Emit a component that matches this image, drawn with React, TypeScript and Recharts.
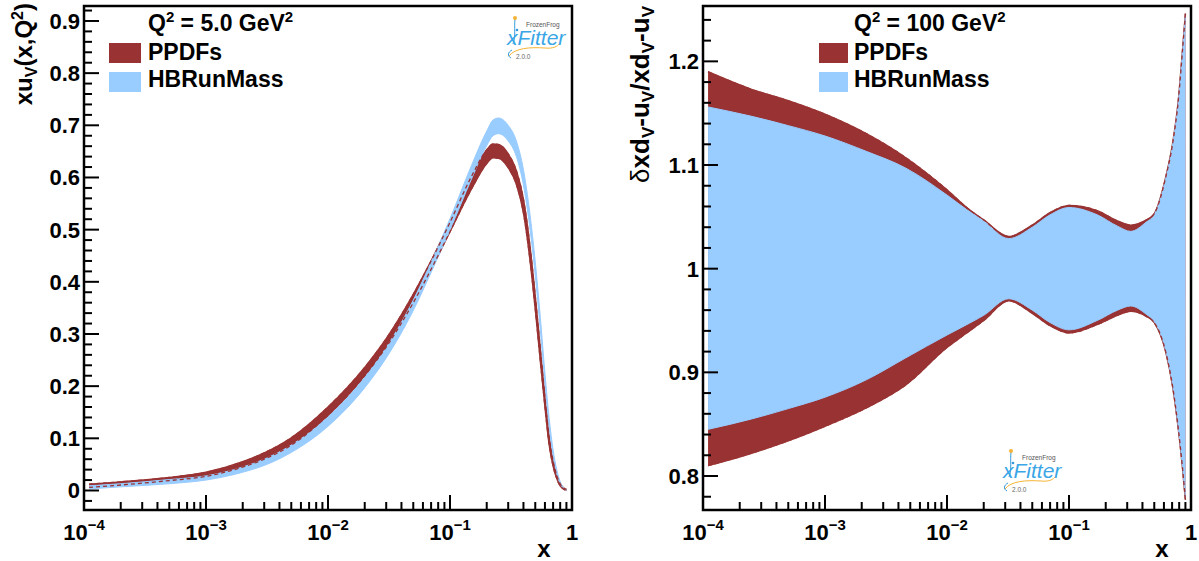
import React from 'react';
import { ComposedChart, Area, Line, XAxis, YAxis, ReferenceArea } from 'recharts';

const FONT = "'Liberation Sans', Arial, Helvetica, sans-serif";
const RED = '#993333';
const BLUE = '#99ccff';

// ---------- Left panel: xu_V(x, Q^2) at Q^2 = 5 GeV^2 ----------
const xLeft = [1.1e-4, 2e-4, 5e-4, 1e-3, 2e-3, 3e-3, 5e-3, 1e-2, 2e-2, 3e-2, 5e-2, 7e-2, 0.1, 0.15, 0.2, 0.225, 0.25, 0.3, 0.35, 0.4, 0.45, 0.5, 0.55, 0.6, 0.65, 0.7, 0.75, 0.8, 0.85, 0.9];
const ppdfLowLeft = [0.006, 0.0105, 0.019, 0.027, 0.045, 0.060, 0.087, 0.144, 0.220, 0.275, 0.360, 0.424, 0.496, 0.578, 0.627, 0.638, 0.637, 0.619, 0.587, 0.532, 0.447, 0.348, 0.249, 0.161, 0.088, 0.047, 0.023, 0.009, 0.003, 0.000];
const ppdfHighLeft = [0.012, 0.0165, 0.025, 0.035, 0.055, 0.072, 0.101, 0.160, 0.236, 0.291, 0.376, 0.440, 0.514, 0.602, 0.653, 0.664, 0.663, 0.645, 0.613, 0.558, 0.473, 0.372, 0.271, 0.179, 0.102, 0.057, 0.029, 0.013, 0.005, 0.002];
const hbLowLeft = [0.003, 0.007, 0.013, 0.020, 0.035, 0.048, 0.073, 0.123, 0.197, 0.254, 0.345, 0.418, 0.499, 0.597, 0.661, 0.680, 0.684, 0.670, 0.640, 0.585, 0.506, 0.412, 0.308, 0.205, 0.122, 0.066, 0.032, 0.013, 0.004, 0.000];
const hbHighLeft = [0.009, 0.013, 0.021, 0.028, 0.045, 0.060, 0.087, 0.141, 0.217, 0.274, 0.365, 0.438, 0.521, 0.623, 0.689, 0.710, 0.714, 0.700, 0.670, 0.615, 0.534, 0.438, 0.332, 0.225, 0.138, 0.078, 0.040, 0.017, 0.006, 0.002];

// ---------- Right panel: ratio at Q^2 = 100 GeV^2 ----------
const xRight = [1.1e-4, 2.5e-4, 5e-4, 1e-3, 2.2e-3, 4.6e-3, 1e-2, 1.45e-2, 2e-2, 3.2e-2, 5e-2, 0.07, 0.1, 0.17, 0.25, 0.32, 0.43, 0.5, 0.62, 0.71, 0.79, 0.85, 0.9];
const ppdfHighRight = [1.190, 1.173, 1.162, 1.149, 1.130, 1.107, 1.076, 1.059, 1.047, 1.031, 1.042, 1.054, 1.061, 1.056, 1.046, 1.042, 1.047, 1.053, 1.088, 1.122, 1.164, 1.209, 1.246];
const ppdfLowRight = [0.810, 0.822, 0.834, 0.848, 0.866, 0.888, 0.924, 0.938, 0.950, 0.969, 0.957, 0.945, 0.938, 0.946, 0.955, 0.959, 0.954, 0.948, 0.920, 0.885, 0.844, 0.809, 0.777];
const hbHighRight = [1.156, 1.147, 1.138, 1.128, 1.113, 1.097, 1.071, 1.057, 1.046, 1.029, 1.040, 1.052, 1.059, 1.052, 1.041, 1.036, 1.045, 1.052, 1.087, 1.121, 1.163, 1.208, 1.245];
const hbLowRight = [0.845, 0.855, 0.865, 0.876, 0.893, 0.914, 0.936, 0.946, 0.955, 0.971, 0.960, 0.948, 0.941, 0.950, 0.960, 0.964, 0.956, 0.949, 0.921, 0.886, 0.845, 0.810, 0.779];

// ---------- Axes ----------
const xMajorTicks = [1e-4, 1e-3, 1e-2, 1e-1, 1];
const xMinorMultipliers = [2, 3, 4, 5, 6, 7, 8, 9];
const yMajorLeft = [0, 0.1, 0.2, 0.3, 0.4, 0.5, 0.6, 0.7, 0.8, 0.9];
const yMajorRight = [0.8, 0.9, 1, 1.1, 1.2];
const yDomainLeft: [number, number] = [-0.0374, 0.9287];
const yDomainRight: [number, number] = [0.7672, 1.2534];

const xTicks: number[] = [];
xMajorTicks.forEach((m, i) => {
  xTicks.push(m);
  if (i < xMajorTicks.length - 1) xMinorMultipliers.forEach((k) => xTicks.push(+(k * m).toPrecision(3)));
});

function yTicksFor(domain: [number, number]) {
  const out: number[] = [];
  const start = Math.ceil(domain[0] * 50 - 1e-9);
  const end = Math.floor(domain[1] * 50 + 1e-9);
  for (let i = start; i <= end; i++) out.push(Math.round(i * 2) / 100);
  return out;
}

const rowsLeft = xLeft.map((x, i) => ({
  x,
  ppdf: [ppdfLowLeft[i], ppdfHighLeft[i]],
  hb: [hbLowLeft[i], hbHighLeft[i]],
  ppdfLo: ppdfLowLeft[i],
  ppdfHi: ppdfHighLeft[i],
}));
const rowsRight = xRight.map((x, i) => ({
  x,
  ppdf: [ppdfLowRight[i], ppdfHighRight[i]],
  hb: [hbLowRight[i], hbHighRight[i]],
  ppdfLo: ppdfLowRight[i],
  ppdfHi: ppdfHighRight[i],
}));

const XTick = (props: any) => {
  const { x, y, payload } = props;
  const v = payload.value;
  const lg = Math.log10(v);
  const major = Math.abs(lg - Math.round(lg)) < 1e-6;
  const len = major ? 15 : 8;
  const e = Math.round(lg);
  return (
    <g>
      <line x1={x} x2={x} y1={y} y2={y - len} stroke="#000" strokeWidth={2} />
      {major && (
        <text x={x} y={y + 30} textAnchor="middle" fontFamily={FONT} fontWeight="bold" fontSize={22} fill="#000">
          {e === 0 ? (
            '1'
          ) : (
            <>
              <tspan>10</tspan>
              <tspan dy={-10} fontSize={15}>{'\u2212' + Math.abs(e)}</tspan>
            </>
          )}
        </text>
      )}
    </g>
  );
};

const YTick = (props: any) => {
  const { x, y, payload } = props;
  const v = payload.value;
  const major = Math.abs(v * 10 - Math.round(v * 10)) < 1e-6;
  const len = major ? 15 : 8;
  return (
    <g>
      <line x1={x} x2={x + len} y1={y} y2={y} stroke="#000" strokeWidth={2} />
      {major && (
        <text x={x - 4} y={y} dy="0.36em" textAnchor="end" fontFamily={FONT} fontWeight="bold" fontSize={22} fill="#000">
          {String(Math.round(v * 10) / 10)}
        </text>
      )}
    </g>
  );
};

function Panel({ rows, domain, width, yAxisWidth, rightMargin }: any) {
  const ticks = yTicksFor(domain);
  return (
    <ComposedChart width={width} height={561} data={rows} margin={{ top: 6, right: rightMargin, bottom: 0, left: 0 }}>
      <XAxis
        dataKey="x"
        type="number"
        scale="log"
        domain={[1e-4, 1]}
        allowDataOverflow
        ticks={xTicks}
        interval={0}
        height={51}
        tickSize={0}
        tickMargin={0}
        tickLine={false}
        axisLine={false}
        tick={(p: any) => <XTick {...p} />}
      />
      <YAxis
        type="number"
        domain={domain}
        allowDataOverflow
        ticks={ticks}
        interval={0}
        width={yAxisWidth}
        tickSize={0}
        tickMargin={0}
        tickLine={false}
        axisLine={false}
        tick={(p: any) => <YTick {...p} />}
      />
      <Area type="monotone" dataKey="ppdf" fill={RED} fillOpacity={1} stroke={RED} strokeWidth={1.5} isAnimationActive={false} />
      <Area type="monotone" dataKey="hb" fill={BLUE} fillOpacity={1} stroke={BLUE} strokeWidth={1} isAnimationActive={false} />
      <Line type="monotone" dataKey="ppdfHi" stroke={RED} strokeWidth={1.3} strokeDasharray="4 3" dot={false} isAnimationActive={false} />
      <Line type="monotone" dataKey="ppdfLo" stroke={RED} strokeWidth={1.3} strokeDasharray="4 3" dot={false} isAnimationActive={false} />
      <ReferenceArea x1={1e-4} x2={1} y1={domain[0]} y2={domain[1]} fill="none" stroke="#000" strokeWidth={2.5} ifOverflow="visible" />
    </ComposedChart>
  );
}

function Logo({ dx, dy }: { dx: number; dy: number }) {
  return (
    <g transform={`translate(${dx},${dy})`}>
      <path d="M515,19 C514,28 516,36 513,44" stroke="#3399dd" strokeWidth={1} fill="none" />
      <circle cx={515} cy={18} r={2} fill="#f5b335" />
      <circle cx={517} cy={30} r={1.3} fill="#3399dd" />
      <text x={526} y={27} fontFamily={FONT} fontSize={6.5} fill="#555">FrozenFrog</text>
      <text x={507} y={45} fontFamily={FONT} fontStyle="italic" fontSize={21} fill="#3aa6e6">xFitter</text>
      <path d="M509,56 C515,48 530,47 545,48 C553,49 558,46 559,44" stroke="#f5b335" strokeWidth={1} fill="none" />
      <path d="M511,58 C507,56 508,52 512,50" stroke="#3399dd" strokeWidth={1} fill="none" />
      <text x={516} y={59} fontFamily={FONT} fontSize={6.5} fill="#666">2.0.0</text>
    </g>
  );
}

function Legend({ sx, sw, tx, q }: { sx: number; sw: number; tx: number; q: string }) {
  const t = { fontFamily: FONT, fontWeight: 'bold' as const, fontSize: 23, fill: '#000' };
  return (
    <g>
      <text x={tx} y={31} {...t}>
        <tspan>Q</tspan>
        <tspan dy={-9} fontSize={15}>2</tspan>
        <tspan dy={9}>{` = ${q} GeV`}</tspan>
        <tspan dy={-9} fontSize={15}>2</tspan>
      </text>
      <rect x={sx} y={43} width={sw} height={20} fill={RED} />
      <rect x={sx} y={72} width={sw} height={20} fill={BLUE} />
      <text x={tx} y={60} {...t}>PPDFs</text>
      <text x={tx} y={87} {...t}>HBRunMass</text>
    </g>
  );
}

export default function App() {
  const lab = { fontFamily: FONT, fontWeight: 'bold' as const, fill: '#000' };
  return (
    <div style={{ position: 'absolute', left: 0, top: 0, width: 1199, height: 561, background: '#fff', overflow: 'hidden' }}>
      <div style={{ position: 'absolute', left: 0, top: 0 }}>
        <Panel rows={rowsLeft} domain={yDomainLeft} width={600} yAxisWidth={84} rightMargin={28} />
      </div>
      <div style={{ position: 'absolute', left: 600, top: 0 }}>
        <Panel rows={rowsRight} domain={yDomainRight} width={599} yAxisWidth={103} rightMargin={8} />
      </div>
      <svg width={1199} height={561} style={{ position: 'absolute', left: 0, top: 0, pointerEvents: 'none' }}>
        <Legend sx={109} sw={32} tx={148} q="5.0" />
        <Legend sx={819} sw={29} tx={854} q="100" />
        <Logo dx={0} dy={0} />
        <Logo dx={496} dy={433} />
        <text transform="translate(32,3) rotate(-90)" textAnchor="end" fontSize={24} {...lab}>
          <tspan>xu</tspan>
          <tspan dy={5} fontSize={16}>V</tspan>
          <tspan dy={-5}>(x,Q</tspan>
          <tspan dy={-9} fontSize={16}>2</tspan>
          <tspan dy={9}>)</tspan>
        </text>
        <text transform="translate(649,6) rotate(-90)" textAnchor="end" fontSize={26} {...lab}>
          <tspan fontWeight="normal">δ</tspan>
          <tspan>xd</tspan>
          <tspan dy={5} fontSize={17}>V</tspan>
          <tspan dy={-5}>-u</tspan>
          <tspan dy={5} fontSize={17}>V</tspan>
          <tspan dy={-5}>/xd</tspan>
          <tspan dy={5} fontSize={17}>V</tspan>
          <tspan dy={-5}>-u</tspan>
          <tspan dy={5} fontSize={17}>V</tspan>
        </text>
        <text x={544} y={557} textAnchor="middle" fontSize={24} {...lab}>x</text>
        <text x={1162} y={557} textAnchor="middle" fontSize={24} {...lab}>x</text>
      </svg>
    </div>
  );
}
